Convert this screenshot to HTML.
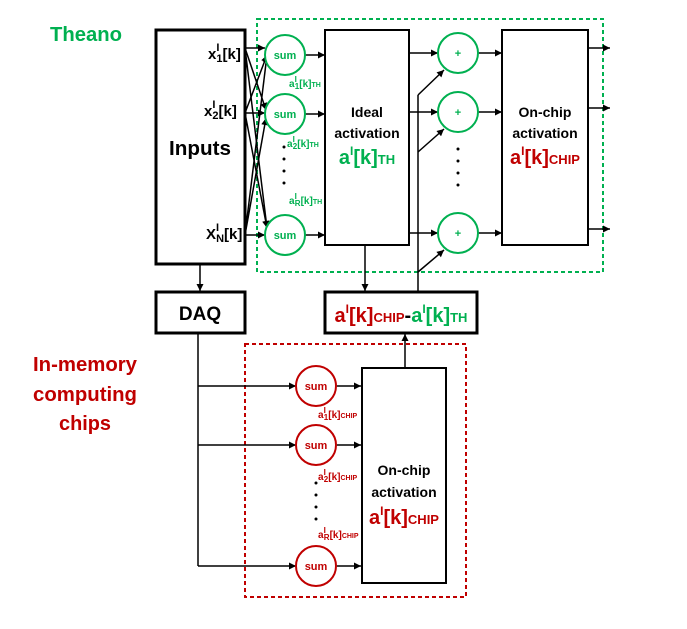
<!DOCTYPE html>
<html><head><meta charset="utf-8"><style>
html,body{margin:0;padding:0;background:#fff;}
svg{display:block;font-family:"Liberation Sans",sans-serif;font-weight:bold;}
</style></head><body>
<svg width="687" height="629" viewBox="0 0 687 629" xmlns="http://www.w3.org/2000/svg">
<defs>
<marker id="ar" viewBox="0 0 10 10" refX="10" refY="5" markerWidth="9" markerHeight="7" orient="auto" markerUnits="userSpaceOnUse"><path d="M0,0L10,5L0,10z" fill="#000"/></marker>
</defs>
<g fill="none" stroke-width="2">
<rect x="257" y="19" width="346" height="253" stroke="#00b050" stroke-dasharray="4,3"/>
<rect x="245" y="344" width="221" height="253" stroke="#c00000" stroke-dasharray="4,3"/>
</g>
<g fill="none" stroke="#000" stroke-width="3">
<rect x="156" y="30" width="89" height="234"/>
<rect x="156" y="292" width="89" height="41"/>
<rect x="325" y="292" width="152" height="41"/>
</g>
<g fill="none" stroke="#000" stroke-width="2">
<rect x="325" y="30" width="84" height="215"/>
<rect x="502" y="30" width="86" height="215"/>
<rect x="362" y="368" width="84" height="215"/>
</g>
<g stroke="#000" stroke-width="1.5" fill="none" marker-end="url(#ar)">
<line x1="245" y1="48" x2="265" y2="48"/><line x1="245" y1="48" x2="266" y2="110"/><line x1="245" y1="48" x2="267" y2="228"/>
<line x1="245" y1="113" x2="265" y2="113"/><line x1="245" y1="113" x2="267" y2="55"/><line x1="245" y1="113" x2="267" y2="228"/>
<line x1="245" y1="235" x2="265" y2="235"/><line x1="245" y1="235" x2="267" y2="55"/><line x1="245" y1="235" x2="266" y2="118"/>
<line x1="305" y1="55" x2="325" y2="55"/><line x1="305" y1="114" x2="325" y2="114"/><line x1="305" y1="235" x2="325" y2="235"/>
<line x1="409" y1="53" x2="438" y2="53"/><line x1="409" y1="112" x2="438" y2="112"/><line x1="409" y1="233" x2="438" y2="233"/>
<line x1="478" y1="53" x2="502" y2="53"/><line x1="478" y1="112" x2="502" y2="112"/><line x1="478" y1="233" x2="502" y2="233"/>
<line x1="588" y1="48" x2="610" y2="48"/><line x1="588" y1="108" x2="610" y2="108"/><line x1="588" y1="229" x2="610" y2="229"/>
<line x1="418" y1="95" x2="444" y2="70"/><line x1="418" y1="152" x2="444" y2="129"/><line x1="418" y1="272" x2="444" y2="250"/>
<line x1="200" y1="264" x2="200" y2="291"/>
<line x1="365" y1="245" x2="365" y2="291"/>
<line x1="405" y1="368" x2="405" y2="334"/>
<line x1="198" y1="386" x2="296" y2="386"/><line x1="198" y1="445" x2="296" y2="445"/><line x1="198" y1="566" x2="296" y2="566"/>
<line x1="337" y1="386" x2="361" y2="386"/><line x1="337" y1="445" x2="361" y2="445"/><line x1="337" y1="566" x2="361" y2="566"/>
</g>
<g stroke="#000" stroke-width="1.5" fill="none">
<polyline points="418,292 418,95"/>
<polyline points="198,333 198,566"/>
</g>
<g fill="#fff" stroke="#00b050" stroke-width="2">
<circle cx="285" cy="55" r="20"/><circle cx="285" cy="114" r="20"/><circle cx="285" cy="235" r="20"/>
<circle cx="458" cy="53" r="20"/><circle cx="458" cy="112" r="20"/><circle cx="458" cy="233" r="20"/>
</g>
<g fill="#fff" stroke="#c00000" stroke-width="2">
<circle cx="316" cy="386" r="20"/><circle cx="316" cy="445" r="20"/><circle cx="316" cy="566" r="20"/>
</g>
<g fill="#00b050" font-size="11" text-anchor="middle">
<text x="285" y="59">sum</text><text x="285" y="118">sum</text><text x="285" y="239">sum</text>
<text x="458" y="57">+</text><text x="458" y="116">+</text><text x="458" y="237">+</text>
</g>
<g fill="#c00000" font-size="11" text-anchor="middle">
<text x="316" y="390">sum</text><text x="316" y="449">sum</text><text x="316" y="570">sum</text>
</g>
<g fill="#000">
<circle cx="284" cy="147" r="1.5"/><circle cx="284" cy="159" r="1.5"/><circle cx="284" cy="171" r="1.5"/><circle cx="284" cy="183" r="1.5"/>
<circle cx="458" cy="149" r="1.5"/><circle cx="458" cy="161" r="1.5"/><circle cx="458" cy="173" r="1.5"/><circle cx="458" cy="185" r="1.5"/>
<circle cx="316" cy="483" r="1.5"/><circle cx="316" cy="495" r="1.5"/><circle cx="316" cy="507" r="1.5"/><circle cx="316" cy="519" r="1.5"/>
</g>
<text x="50" y="41" fill="#00b050" font-size="20" textLength="72" lengthAdjust="spacingAndGlyphs">Theano</text>
<g fill="#c00000" font-size="20" text-anchor="middle">
<text x="85" y="371" textLength="104" lengthAdjust="spacingAndGlyphs">In-memory</text>
<text x="85" y="401" textLength="104" lengthAdjust="spacingAndGlyphs">computing</text>
<text x="85" y="430" textLength="52" lengthAdjust="spacingAndGlyphs">chips</text>
</g>
<g fill="#000" font-size="15">
<text x="208" y="59">x<tspan font-size="11" dy="-8">I</tspan><tspan font-size="11" dx="-3" dy="11">1</tspan><tspan dy="-3">[k]</tspan></text>
<text x="204" y="116">x<tspan font-size="11" dy="-8">I</tspan><tspan font-size="11" dx="-3" dy="11">2</tspan><tspan dy="-3">[k]</tspan></text>
<text x="206" y="239">X<tspan font-size="11" dy="-8">I</tspan><tspan font-size="11" dx="-3" dy="11">N</tspan><tspan dy="-3">[k]</tspan></text>
</g>
<text x="200" y="155" fill="#000" font-size="20" text-anchor="middle" textLength="62" lengthAdjust="spacingAndGlyphs">Inputs</text>
<text x="200" y="320" fill="#000" font-size="19" text-anchor="middle">DAQ</text>
<g fill="#000" font-size="14" text-anchor="middle">
<text x="367" y="117">Ideal</text><text x="367" y="138">activation</text>
<text x="545" y="117">On-chip</text><text x="545" y="138">activation</text>
<text x="404" y="475">On-chip</text><text x="404" y="497">activation</text>
</g>
<text x="367" y="164" fill="#00b050" font-size="20" text-anchor="middle">a<tspan font-size="12" dy="-9">I</tspan><tspan dy="9">[k]</tspan><tspan font-size="13">TH</tspan></text>
<text x="545" y="164" fill="#c00000" font-size="20" text-anchor="middle">a<tspan font-size="12" dy="-9">I</tspan><tspan dy="9">[k]</tspan><tspan font-size="13">CHIP</tspan></text>
<text x="404" y="504" fill="#c00000" font-size="20" text-anchor="middle" dy="20">a<tspan font-size="12" dy="-9">I</tspan><tspan dy="9">[k]</tspan><tspan font-size="13">CHIP</tspan></text>
<text x="401" y="322" font-size="20" text-anchor="middle"><tspan fill="#c00000">a</tspan><tspan fill="#c00000" font-size="12" dy="-9">I</tspan><tspan fill="#c00000" dy="9">[k]</tspan><tspan fill="#c00000" font-size="13">CHIP</tspan><tspan fill="#000">-</tspan><tspan fill="#00b050">a</tspan><tspan fill="#00b050" font-size="12" dy="-9">I</tspan><tspan fill="#00b050" dy="9">[k]</tspan><tspan fill="#00b050" font-size="13">TH</tspan></text>
<g fill="#00b050" font-size="10">
<text x="289" y="87">a<tspan font-size="8" dy="-5">I</tspan><tspan font-size="8" dx="-2" dy="7">1</tspan><tspan dy="-2">[k]</tspan><tspan font-size="7">TH</tspan></text>
<text x="287" y="147">a<tspan font-size="8" dy="-5">I</tspan><tspan font-size="8" dx="-2" dy="7">2</tspan><tspan dy="-2">[k]</tspan><tspan font-size="7">TH</tspan></text>
<text x="289" y="204">a<tspan font-size="8" dy="-5">I</tspan><tspan font-size="8" dx="-2" dy="7">R</tspan><tspan dy="-2">[k]</tspan><tspan font-size="7">TH</tspan></text>
</g>
<g fill="#c00000" font-size="10">
<text x="318" y="418">a<tspan font-size="8" dy="-5">I</tspan><tspan font-size="8" dx="-2" dy="7">1</tspan><tspan dy="-2">[k]</tspan><tspan font-size="7">CHIP</tspan></text>
<text x="318" y="480">a<tspan font-size="8" dy="-5">I</tspan><tspan font-size="8" dx="-2" dy="7">2</tspan><tspan dy="-2">[k]</tspan><tspan font-size="7">CHIP</tspan></text>
<text x="318" y="538">a<tspan font-size="8" dy="-5">I</tspan><tspan font-size="8" dx="-2" dy="7">R</tspan><tspan dy="-2">[k]</tspan><tspan font-size="7">CHIP</tspan></text>
</g>
</svg>
</body></html>
